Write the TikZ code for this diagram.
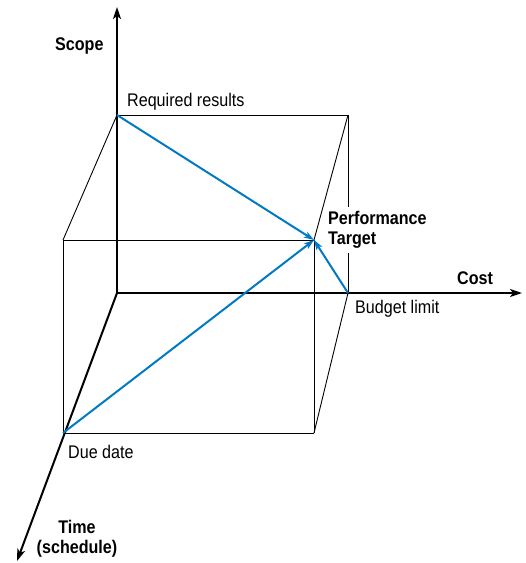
\documentclass[tikz,border=0pt]{standalone}
\usepackage{fontspec}
\setmainfont{Liberation Sans}[FakeStretch=0.88]
\usetikzlibrary{arrows.meta}
\definecolor{trgblue}{RGB}{0,122,194}

\begin{document}
\begin{tikzpicture}[x=1pt,y=-1pt,
        axis/.style={line width=2pt,-{Stealth[length=12pt,width=8pt,inset=3pt]}},
        edge/.style={line width=0.9pt},
        move/.style={trgblue,line width=2pt,-{Stealth[length=10pt,width=6.5pt,inset=2.5pt]}},
        lbl/.style={font=\fontsize{18.3}{20.5}\selectfont,inner sep=0pt},
        blbl/.style={font=\fontsize{18.3}{20.5}\selectfont\bfseries,inner sep=0pt}]
    \useasboundingbox (0,0) rectangle (526,563);

    % corners of the box
    \coordinate (O) at (117,293);
    \coordinate (R) at (117,115);
    \coordinate (RB) at (348,115);
    \coordinate (B) at (348,293);
    \coordinate (DT) at (63,240);
    \coordinate (D) at (63,433);
    \coordinate (P) at (314,240);
    \coordinate (PD) at (314,433);

    % axis ends
    \coordinate (scopeend) at (117,7);
    \coordinate (costend) at (522,293);
    \coordinate (timeend) at (17,561);

    \draw [edge] (R) -- (RB);
    \draw [edge] (RB) -- (B);
    \draw [edge] (RB) -- (P);
    \draw [edge] (R) -- (DT);
    \draw [edge] (DT) -- (P);
    \draw [edge] (DT) -- (D);
    \draw [edge] (D) -- (PD);
    \draw [edge] (P) -- (PD);
    \draw [edge] (B) -- (PD);

    \draw [axis] (O) -- (scopeend);
    \draw [axis] (O) -- (costend);
    \draw [axis] (O) -- (timeend);

    \draw [move] (R) -- (P);
    \draw [move] (D) -- (P);
    \draw [move] (B) -- (P);

    \node [blbl,anchor=base west] (scope) at (55,50) {Scope};
    \node [blbl,anchor=base west] (cost) at (457,284) {Cost};
    \node [blbl,align=center,anchor=north] (time) at (77,520) {Time\\(schedule)};
    \node [lbl,anchor=base west] (req) at (127,106) {Required results};
    \node [lbl,anchor=base west] (budget) at (355,313) {Budget limit};
    \node [lbl,anchor=base west] (due) at (68,458) {Due date};
    \node [blbl,align=left,anchor=north west,fill=white,inner sep=4pt] (perf) at (324,207) {Performance\\Target};
\end{tikzpicture}
\end{document}
